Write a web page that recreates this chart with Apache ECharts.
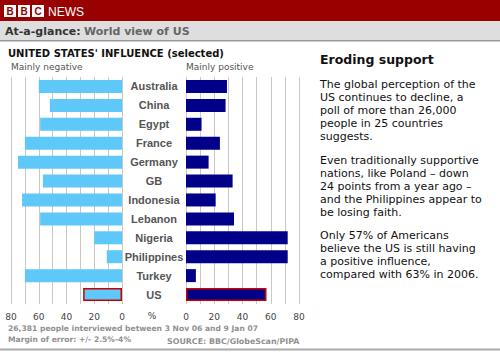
<!DOCTYPE html>
<html><head><meta charset="utf-8">
<script src="https://cdn.jsdelivr.net/npm/echarts@6/dist/echarts.min.js"></script>
<style>html,body{margin:0;padding:0;background:#fff}#c{width:500px;height:352px}</style>
</head><body><div id="c"></div>
<script>
// ---- data ----
const countries = ['Australia','China','Egypt','France','Germany','GB','Indonesia','Lebanon','Nigeria','Philippines','Turkey','US'];
const mainlyNegative = [60,52,59,70,75,57,72,59,20,11,70,28];
const mainlyPositive = [29,28,11,24,16,33,21,34,72,72,7,57];
const axisMax = 80, gridStep = 10, labelStep = 20;
const highlighted = 'US';

const chartTitle = "UNITED STATES' INFLUENCE (selected)";
const leftLabel = 'Mainly negative';
const rightLabel = 'Mainly positive';
const footLines = ['26,381 people interviewed between 3 Nov 06 and 9 Jan 07', 'Margin of error: +/- 2.5%-4%'];
const sourceText = 'SOURCE: BBC/GlobeScan/PIPA';
const sideTitle = 'Eroding support';
const sideParas = [
  ['The global perception of the','US continues to decline, a','poll of more than 26,000','people in 25 countries','suggests.'],
  ['Even traditionally supportive','nations, like Poland \u2013 down','24 points from a year ago \u2013','and the Philippines appear to','be losing faith.'],
  ['Only 57% of Americans','believe the US is still having','a positive influence,','compared with 63% in 2006.']
];

const chart = echarts.init(document.getElementById('c'), null, {renderer:'svg', width:500, height:352});
const dv = 'DejaVu Sans', lib = 'Liberation Sans';
const hiStyle = {borderColor:'#cc0000', borderWidth:1.5};
const mk = (arr) => arr.map((v,i) => countries[i] === highlighted ? {value:v, itemStyle:hiStyle} : v);

const xAxisCommon = {
  type:'value', min:0, max:axisMax, interval:gridStep,
  axisLine:{show:false}, axisTick:{show:false},
  splitLine:{show:true, showMinLine:true, showMaxLine:true, lineStyle:{color:'#c8c8c8', width:1}},
  axisLabel:{color:'#444', fontFamily:dv, fontSize:9, margin:8, showMinLabel:true, showMaxLabel:true, hideOverlap:false,
    formatter:(v)=> (v % labelStep === 0 ? String(v) : '')}
};

const sideGraphics = [];
let y0 = 78.5;
sideParas.forEach((p) => {
  sideGraphics.push({type:'text', left:320, top:y0, style:{text:p.join('\n'), fill:'#111', font:'11px "DejaVu Sans"', lineHeight:12.9}});
  y0 += p.length*12.9 + 11;
});

chart.setOption({
  animation:false,
  backgroundColor:'#fff',
  grid:[
    {left:11, top:77, width:111, height:227, outerBoundsMode:'none', containLabel:false},
    {left:186, top:77, width:113, height:227, outerBoundsMode:'none', containLabel:false}
  ],
  xAxis:[
    Object.assign({gridIndex:0, inverse:true}, xAxisCommon),
    Object.assign({gridIndex:1}, xAxisCommon)
  ],
  yAxis:[
    {type:'category', gridIndex:0, data:countries, inverse:true, position:'right',
      axisLine:{show:false}, axisTick:{show:false}, splitLine:{show:false},
      axisLabel:{margin:32, align:'center', color:'#555', fontFamily:lib, fontWeight:'bold', fontSize:11, interval:0}},
    {type:'category', gridIndex:1, data:countries, inverse:true,
      axisLine:{show:false}, axisTick:{show:false}, splitLine:{show:false}, axisLabel:{show:false}}
  ],
  series:[
    {type:'bar', xAxisIndex:0, yAxisIndex:0, data:mk(mainlyNegative), barWidth:13, itemStyle:{color:'#5ec8f8'}, silent:true},
    {type:'bar', xAxisIndex:1, yAxisIndex:1, data:mk(mainlyPositive), barWidth:13, itemStyle:{color:'#000088'}, silent:true}
  ],
  graphic:[
    {type:'rect', shape:{x:0,y:0,width:500,height:21}, style:{fill:'#990000'}},
    {type:'rect', shape:{x:4,y:5,width:12,height:12}, style:{fill:'#fff'}},
    {type:'rect', shape:{x:18,y:5,width:12,height:12}, style:{fill:'#fff'}},
    {type:'rect', shape:{x:32,y:5,width:12,height:12}, style:{fill:'#fff'}},
    {type:'text', x:10, y:11.5, style:{text:'B', fill:'#990000', font:'bold 10px "Liberation Sans"', align:'center', verticalAlign:'middle'}},
    {type:'text', x:24, y:11.5, style:{text:'B', fill:'#990000', font:'bold 10px "Liberation Sans"', align:'center', verticalAlign:'middle'}},
    {type:'text', x:38, y:11.5, style:{text:'C', fill:'#990000', font:'bold 10px "Liberation Sans"', align:'center', verticalAlign:'middle'}},
    {type:'text', x:48, y:11.5, style:{text:'NEWS', fill:'#fff', font:'12px "Liberation Sans"', verticalAlign:'middle'}},
    {type:'rect', shape:{x:0,y:21,width:500,height:19}, style:{fill:'#dedede'}},
    {type:'rect', shape:{x:0,y:40,width:500,height:1.5}, style:{fill:'#9a9a9a'}},
    {type:'text', x:5, y:31.5, style:{text:'{a|At-a-glance:} {b|World view of US}', verticalAlign:'middle',
      rich:{a:{fill:'#333', font:'bold 11px "DejaVu Sans"'}, b:{fill:'#666', font:'bold 11px "DejaVu Sans"'}}}},
    {type:'text', x:8, y:53.5, style:{text:chartTitle, fill:'#111', font:'bold 10px "DejaVu Sans"', verticalAlign:'middle'}},
    {type:'text', x:11, y:67, style:{text:leftLabel, fill:'#555', font:'9px "DejaVu Sans"', verticalAlign:'middle'}},
    {type:'text', x:186, y:67, style:{text:rightLabel, fill:'#555', font:'9px "DejaVu Sans"', verticalAlign:'middle'}},
    {type:'text', x:152, y:316, style:{text:'%', fill:'#444', font:'9px "DejaVu Sans"', align:'center', verticalAlign:'middle'}},
    {type:'text', x:8, y:328, style:{text:footLines[0], fill:'#909090', font:'bold 7.6px "DejaVu Sans"', verticalAlign:'middle'}},
    {type:'text', x:8, y:339.5, style:{text:footLines[1], fill:'#909090', font:'bold 7.6px "DejaVu Sans"', verticalAlign:'middle'}},
    {type:'text', x:167, y:341, style:{text:sourceText, fill:'#909090', font:'bold 7.9px "DejaVu Sans"', verticalAlign:'middle'}},
    {type:'rect', shape:{x:0,y:348.5,width:500,height:2}, style:{fill:'#aaa'}},
    {type:'text', x:320, y:59, style:{text:sideTitle, fill:'#111', font:'bold 12.5px "DejaVu Sans"', verticalAlign:'middle'}}
  ].concat(sideGraphics)
});
</script>
</body></html>
